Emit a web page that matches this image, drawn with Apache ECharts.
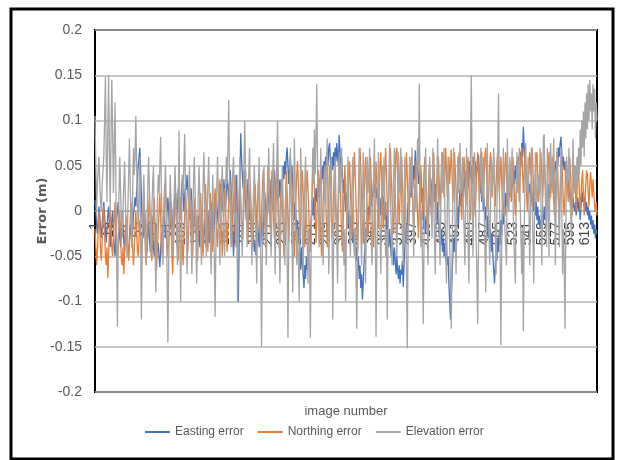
<!DOCTYPE html>
<html>
<head>
<meta charset="utf-8">
<script src="https://cdn.jsdelivr.net/npm/echarts@6/dist/echarts.min.js"></script>
<style>html,body{margin:0;padding:0;background:#fff;}#c{width:618px;height:460px;}</style>
</head>
<body>
<div id="c"></div>
<script>
const seriesNames = ['Easting error', 'Northing error', 'Elevation error'];
const imageCount = 628;
const categories = Array.from({length: imageCount}, (_, i) => String(i + 1));
const labelStep = 18;
const yTicks = [-0.2, -0.15, -0.1, -0.05, 0, 0.05, 0.1, 0.15, 0.2];
const xAxisTitle = 'image number';
const yAxisTitle = 'Error (m)';

const eastingError = [
.012,.0,-.015,-.025,-.01,.005,-.005,-.02,-.03,-.015,.0,.01,-.005,-.02,-.035,-.02,-.005,.005,-.015,-.04,
-.025,-.01,.0,-.02,-.04,-.05,-.03,-.01,.0,.01,-.01,-.03,-.04,-.02,.0,-.015,-.035,-.045,-.025,-.01,
-.03,-.045,-.05,-.03,-.015,-.025,-.04,-.02,-.005,.005,.015,.005,.02,.035,.05,.06,.07,.045,.015,-.015,
-.03,-.02,.0,-.015,-.035,-.045,-.025,-.01,-.03,-.045,-.025,-.005,-.02,-.04,-.05,-.03,-.015,-.03,-.045,-.035,
-.05,-.062,-.045,-.025,-.035,-.015,.0,-.01,-.03,-.02,.0,.015,.0,-.02,-.01,.01,.0,-.025,-.015,.005,
.02,.01,-.01,.005,.025,.01,-.01,.0,.02,.035,.02,.0,.015,.03,.023,.04,.025,.005,-.01,.01,
.025,.01,-.015,-.025,-.005,.01,-.01,-.03,-.02,-.005,-.025,-.04,-.02,-.005,-.025,-.045,-.03,-.01,-.025,-.04,
-.02,.0,-.015,-.035,-.02,.0,.01,-.01,-.03,-.015,.005,.02,.01,-.005,-.015,.005,.025,.03,.01,.0,
.02,.035,.02,.0,.02,.04,.025,.01,.03,.045,.025,.005,-.02,-.05,-.03,.0,.02,.04,-.03,-.1,
-.04,.03,.086,.06,.04,.025,.045,.03,.01,-.01,.01,.035,.015,-.01,.0,-.02,-.035,-.015,-.03,-.045,
-.035,-.049,-.03,-.01,-.025,-.04,-.02,-.005,-.02,-.04,-.025,.0,.02,.005,-.015,.005,.025,.01,-.005,.015,
.035,.02,.0,.02,.045,.03,.01,.03,.05,.035,.015,.035,.025,.005,.03,.05,.035,.055,.04,.06,
.07,.05,.03,.045,.06,.04,.05,.03,.01,-.01,.01,-.005,-.025,-.01,-.035,-.02,-.045,-.065,-.04,-.06,
-.07,-.085,-.06,-.075,-.05,-.065,-.04,-.02,-.035,-.03,-.01,.01,-.005,.015,-.01,.005,.025,.01,.03,.015,
.035,.02,.045,.03,.05,.035,.055,.04,.06,.045,.065,.05,.07,.075,.055,.04,.06,.045,.065,.05,
.07,.055,.075,.06,.05,.084,.065,.045,.06,.04,.02,.035,.015,.0,.02,.005,-.015,.0,-.02,-.005,
-.025,-.01,-.035,-.02,-.045,-.03,-.055,-.04,-.065,-.05,-.075,-.06,-.085,-.07,-.098,-.08,-.06,-.04,-.02,-.03,
-.01,.005,-.01,.01,.025,.005,.02,.015,.035,.02,.03,.015,.025,.005,.02,.0,.015,-.005,.01,.02,
.02,.005,-.01,.01,-.02,-.005,-.025,-.04,-.02,-.035,-.05,-.03,-.045,-.06,-.04,-.055,-.07,-.05,-.065,-.075,
-.06,-.08,-.065,-.07,-.055,-.084,-.06,-.04,-.02,-.035,-.01,.01,-.005,.02,.035,.015,.04,.025,.05,.035,
.067,.05,.04,.055,.03,.045,.02,.035,.01,.025,.0,-.02,-.005,-.025,-.01,.005,-.015,.01,.025,.005,
.02,.035,.015,.03,.01,.03,.005,-.015,.01,-.01,-.03,-.015,-.035,-.02,-.045,-.03,-.05,-.035,-.055,-.04,
-.06,-.05,-.08,-.1,-.12,-.095,-.07,-.05,-.03,-.045,-.02,-.035,-.01,.005,-.015,.01,.025,.005,.02,.035,
.015,.03,.045,.02,.035,.05,.025,.04,.055,.035,.05,.03,.045,.06,.04,.055,.035,.05,.045,.062,
.04,.02,.035,.01,.025,.0,.015,-.01,.005,-.02,-.005,-.03,-.01,-.035,-.02,-.045,-.025,-.05,-.065,-.08,
-.06,-.04,-.055,-.03,-.045,-.02,-.035,-.01,-.025,.0,-.015,.01,-.005,.02,.005,.025,.01,.03,.015,.035,
.02,.04,.025,.045,.03,.05,.035,.055,.04,.06,.045,.065,.05,.075,.06,.093,.07,.05,.035,.045,
.025,.04,.02,.03,.01,.025,.005,.02,.0,.015,-.005,.01,-.01,.005,-.015,-.005,-.02,-.01,-.015,-.005,
-.015,.005,-.01,.01,.0,.02,.01,.03,.015,.035,.025,.045,.03,.05,.04,.055,.045,.065,.05,.07,
.06,.075,.082,.065,.05,.06,.045,.055,.035,.045,.025,.035,.015,.025,.005,.02,.0,.015,.005,.0,
.01,-.005,.005,.015,.0,.01,-.01,.005,.02,.01,.025,.005,.015,.0,.01,-.005,.005,-.01,.0,-.015,
-.005,-.02,-.01,-.025,-.015,-.03,-.02,-.025
];

const northingError = [
-.02,-.04,-.06,-.045,-.02,.0,-.02,-.045,-.055,-.03,-.01,.005,-.025,-.05,-.06,-.04,-.074,-.05,-.02,.0,
-.02,-.04,-.05,-.03,-.01,.01,-.02,-.045,-.05,-.03,-.015,.0,-.03,-.055,-.06,-.04,-.07,-.045,-.02,-.005,
-.025,-.045,-.055,-.035,-.01,.01,-.015,-.04,-.06,-.045,-.02,.0,-.02,-.045,-.05,-.03,-.01,-.025,-.05,-.035,
-.015,.01,-.02,-.045,-.06,-.04,-.02,.0,.02,-.01,-.035,-.055,-.03,-.005,.015,-.015,-.04,-.065,-.04,-.02,
.0,.02,-.01,-.035,-.05,-.025,.0,.03,.031,.0,-.03,-.05,-.035,-.01,.01,-.02,-.045,-.07,-.04,-.015,
.005,.02,-.01,-.04,-.055,-.03,.0,.015,-.01,-.04,-.06,-.03,-.005,.02,.0,-.025,-.045,-.02,.005,.025,
.0,-.03,-.05,-.025,.0,.015,-.01,-.035,-.055,-.03,-.01,.01,.02,-.005,-.03,-.05,-.02,.005,.03,.005,
-.02,-.045,-.02,.0,.02,-.005,-.03,-.045,-.02,.01,.025,.0,-.025,-.04,-.015,.01,.035,.01,-.02,-.05,
-.025,.0,.025,.005,-.02,-.045,-.02,.01,.035,.01,-.015,-.04,-.015,.01,.03,.04,.015,-.01,-.035,-.01,
.015,.035,.01,-.015,-.04,-.02,.005,.03,.045,.02,-.01,-.035,-.01,.015,.03,.0,-.025,-.04,-.015,.01,
.03,.005,-.02,.01,.035,.02,-.01,-.03,-.005,.025,.045,.02,-.01,-.04,-.015,.015,.05,.025,.0,-.02,
.01,.045,.02,-.01,-.03,.0,.03,.05,.02,-.015,-.04,-.01,.02,.035,.01,-.02,-.05,-.02,.015,.045,
.02,-.01,-.035,.0,.03,.05,.025,.0,-.025,-.05,-.02,.015,.04,.055,.03,.0,-.03,-.01,.02,.045,
.02,-.01,-.04,-.015,.02,.045,.025,.0,-.03,-.045,-.02,.01,.04,.055,.025,-.005,-.035,-.01,.02,.045,
.03,.0,-.025,-.05,-.02,.01,.04,.05,.02,-.01,-.04,-.015,.02,.05,.03,.0,-.03,-.01,.02,.045,
.02,-.01,-.035,-.01,.025,.06,.035,.005,-.025,-.045,-.015,.02,.05,.03,.0,-.02,.01,.04,.055,.025,
-.005,-.03,.0,.035,.065,.04,.01,-.02,-.045,-.01,.03,.07,.045,.015,-.015,-.035,.0,.04,.06,.03,
.0,-.03,-.01,.03,.06,.035,.005,-.025,-.04,-.01,.025,.055,.03,.0,-.02,.015,.05,.065,.035,.005,
-.02,.01,.045,.07,.04,.01,-.015,.02,.05,.07,.04,.015,-.01,-.025,.005,.04,.065,.07,.035,.01,
-.015,.015,.045,.06,.03,.0,-.03,.0,.035,.065,.04,.01,-.015,.01,.045,.06,.03,.0,-.02,.015,
.04,.055,.02,-.005,-.03,.0,.035,.05,.025,-.01,.015,.045,.06,.03,.0,-.02,.01,.04,.055,.025,
-.005,.02,.05,.065,.035,.01,-.01,.02,.045,.06,.03,.005,.025,.055,.065,.04,.015,.04,.07,.045,
.015,.04,.06,.03,.05,.068,.04,.01,.035,.065,.045,.02,.0,.03,.055,.065,.035,.01,-.01,.02,
.045,.06,.03,.005,.025,.05,.06,.03,.0,-.01,.02,.045,.06,.035,.01,-.005,.025,.05,.065,.04,
.01,.03,.055,.065,.04,.015,.035,.06,.07,.045,.02,.0,.025,.05,.065,.04,.015,.04,.06,.03,
.005,.03,.055,.065,.04,.02,.045,.06,.03,.005,-.005,.02,.05,.065,.04,.015,.0,.03,.055,.035,
.01,.035,.06,.04,.015,-.005,.02,.045,.06,.035,.01,.035,.06,.07,.045,.02,.04,.068,.05,.02,
.0,.025,.05,.065,.04,.055,.07,.045,.02,.0,.03,.06,.065,.04,.01,.025,.05,.065,.04,.015,
.035,.06,.045,.02,.0,.025,.05,.065,.04,.015,.035,.06,.04,.01,-.005,.02,.045,.065,.04,.015,
-.005,.02,.045,.06,.035,.01,-.005,.02,.045,.055,.03,.01,.03,.06,.04,.015,-.005,.02,.04,.05,
.025,.0,.02,.04,.045,.02,.0,.015,.035,.045,.02,-.005,.01,.03,.045,.04,.02,.005,.03,.043,
.03,.015,.035,.02,.005,.0,.01,-.005
];

const elevationError = [
.105,.05,.0,.03,.045,.06,.03,.01,.0,.03,.045,.06,.1,.148,.06,.01,.09,.15,.07,.0,
.08,.145,.09,.02,.07,.12,.04,-.05,-.128,-.04,.02,.06,.02,-.01,-.03,.0,.03,.055,.01,-.02,
-.05,.0,.04,.08,.03,-.01,-.04,.02,.07,.04,.06,.105,.05,.01,-.02,.02,.06,-.03,-.12,-.04,
.01,.04,.0,-.03,-.06,-.01,.03,.06,.02,-.02,-.05,.0,.03,.05,.0,-.04,-.09,-.03,.01,.04,
.02,.05,.082,.02,-.02,-.06,-.01,.02,.05,.01,-.07,-.145,-.06,.0,.04,.01,-.02,-.05,-.01,.02,
.05,.01,-.03,-.06,.01,.089,-.02,-.1,-.03,.04,.02,.05,.085,.03,-.02,-.07,-.02,.02,.05,.0,
-.03,-.07,-.02,.03,.06,.02,-.03,-.08,-.02,.02,.05,.01,-.03,-.06,-.01,.03,.065,.02,-.02,-.05,
-.01,.03,.06,.01,-.03,-.07,-.01,.04,.0,-.05,-.117,-.04,.02,.06,.02,-.02,-.06,-.01,.03,.05,
.0,-.03,-.05,.01,.06,.03,.07,.123,.04,-.01,-.04,.01,.04,.06,.02,-.01,-.04,.0,-.1,-.03,
.02,.06,.01,-.02,-.05,.0,.05,.1,.04,.0,-.04,.01,.04,.07,.02,-.02,-.06,-.01,.02,.05,
.01,-.03,-.08,-.02,.02,.06,.0,-.06,-.15,-.05,.01,.05,.01,-.02,-.06,-.01,.03,.07,.02,-.02,
-.05,.0,.04,.075,.0,-.07,-.01,.05,.1,.03,-.03,-.08,-.02,.02,.05,.01,-.03,-.06,-.01,.03,
-.05,-.14,-.04,.02,.07,.02,-.03,-.09,.0,.08,.03,-.02,-.06,-.02,-.05,-.1,.0,.07,.02,-.03,
-.07,-.01,.03,.06,.01,-.03,-.08,-.02,-.06,-.14,-.04,.02,.07,.03,.09,.04,.08,.14,.05,-.01,
-.04,.02,.07,.01,-.03,-.06,.0,.05,.01,.04,.08,.0,-.07,-.01,.03,.06,-.02,-.12,-.04,.02,
.06,.01,-.03,-.08,-.01,.065,.02,.04,.07,.01,-.03,-.06,-.02,-.1,-.03,.02,.06,.01,-.02,-.05,
.0,.03,.06,.0,-.05,-.02,-.07,-.13,-.04,.02,.07,.02,-.02,-.06,.0,.065,.01,-.03,-.08,-.01,
.06,.02,.04,.07,.01,-.03,-.06,.0,.04,.08,.0,-.139,-.05,.01,.065,.02,-.02,-.07,.0,.05,
.02,.06,.01,-.05,-.02,-.12,-.03,.03,.075,.02,-.02,-.06,.0,.04,.07,.02,-.02,-.05,.01,.065,
.02,.04,.07,.01,-.03,-.06,.0,.06,.0,-.06,-.152,-.04,.02,.06,.02,.04,.07,.01,-.05,.0,
.03,.0,.05,.08,.04,.141,.03,-.04,.0,-.05,-.125,-.03,.03,.07,.02,-.02,-.06,.0,.06,.02,
.0,-.03,.07,.02,-.03,-.07,.0,.04,.08,.02,-.02,-.06,.01,.065,.02,.04,.07,.0,-.04,-.08,
.0,.06,.01,-.04,-.08,-.13,-.05,.02,.07,.02,-.02,-.07,.0,.06,.02,.04,.075,.02,.03,.06,
.01,-.02,-.06,.01,.07,.02,-.03,-.08,.0,.07,.15,.04,-.05,.01,.065,.02,-.03,-.07,-.125,-.04,
.01,.04,.07,.03,.01,.06,.01,-.04,-.09,-.01,.075,.02,-.02,-.06,.01,.06,.02,.04,.07,.01,
-.03,-.07,.0,.06,.13,.03,-.05,-.148,-.04,.02,.07,.02,-.02,-.04,-.06,.08,.03,.0,.06,.02,
.04,.07,.02,-.03,-.05,-.08,.0,.065,.02,.04,.07,.01,-.03,-.07,-.02,-.133,-.03,.03,.075,.03,
.02,.06,.0,-.06,.0,.07,.02,-.03,-.08,.0,.065,.03,.01,.02,.04,.02,.07,.01,-.06,.0,
.08,.085,.03,.0,-.04,.07,.01,-.05,.02,.075,.04,.02,.05,.08,.02,-.06,.0,.07,.03,.0,
-.04,.02,.07,.01,-.07,-.02,-.05,-.13,-.03,.06,.03,.04,.07,.02,.0,-.03,.03,.08,.04,.02,
.05,.02,.06,.03,.07,.04,.09,.05,.1,.07,.11,.06,.12,.08,.13,.09,.14,.1,.145,.11,
.13,.09,.14,.11,.135,.08,.12,.1
];

const seriesColors = ['#4472C4', '#ED7D31', '#A5A5A5'];
const seriesData = [eastingError, northingError, elevationError];

const chart = echarts.init(document.getElementById('c'), null, {renderer: 'canvas'});
const sans = '"Liberation Sans", Arial, sans-serif';

chart.setOption({
  animation: false,
  backgroundColor: '#fff',
  legend: {
    data: seriesNames,
    left: 145,
    top: 426,
    padding: 0,
    icon: 'rect',
    itemWidth: 25,
    itemHeight: 2,
    itemGap: 14,
    textStyle: {fontFamily: sans, fontSize: 12, color: '#595959'}
  },
  grid: {
    left: 95, right: 21, top: 30, bottom: 68,
    show: true, borderColor: '#000', borderWidth: 2, backgroundColor: 'transparent'
  },
  xAxis: {
    type: 'category',
    data: categories,
    boundaryGap: false,
    offset: -181,
    axisLine: {onZero: false, lineStyle: {color: '#b4b4b4', width: 1.5}},
    axisTick: {show: false},
    splitLine: {show: false},
    axisLabel: {
      interval: (index) => index % labelStep === 0 || index === imageCount - 1,
      rotate: 90,
      margin: 11,
      hideOverlap: false,
      showMinLabel: true,
      showMaxLabel: true,
      formatter: (value, index) => (index % labelStep === 0 ? value : ''),
      fontFamily: sans,
      fontSize: 14,
      lineHeight: 14,
      color: '#404040'
    }
  },
  yAxis: {
    type: 'value',
    min: yTicks[0],
    max: yTicks[yTicks.length - 1],
    interval: 0.05,
    name: yAxisTitle,
    nameLocation: 'middle',
    nameGap: 46,
    nameMoveOverlap: false,
    nameTextStyle: {fontFamily: '"DejaVu Sans", sans-serif', fontSize: 13, color: '#595959', fontWeight: 'bold'},
    axisLine: {show: false},
    axisTick: {show: false},
    splitLine: {lineStyle: {color: '#b4b4b4', width: 1.5}},
    axisLabel: {
      margin: 13,
      fontFamily: sans,
      fontSize: 14,
      color: '#595959',
      formatter: v => String(Math.round(v * 100) / 100)
    }
  },
  series: seriesNames.map((name, i) => ({
    name: name,
    type: 'line',
    data: seriesData[i],
    showSymbol: false,
    symbol: 'none',
    lineStyle: {color: seriesColors[i], width: 1.3},
    itemStyle: {color: seriesColors[i]},
    z: 2 + i
  })),
  graphic: [{
    type: 'rect',
    shape: {x: 11, y: 9, width: 602, height: 450},
    style: {fill: 'none', stroke: '#000', lineWidth: 3},
    silent: true
  }, {
    type: 'text',
    x: 346,
    y: 411,
    style: {text: xAxisTitle, fontFamily: sans, fontSize: 13, fill: '#595959', textAlign: 'center', textVerticalAlign: 'middle'},
    silent: true
  }]
});
</script>
</body>
</html>
